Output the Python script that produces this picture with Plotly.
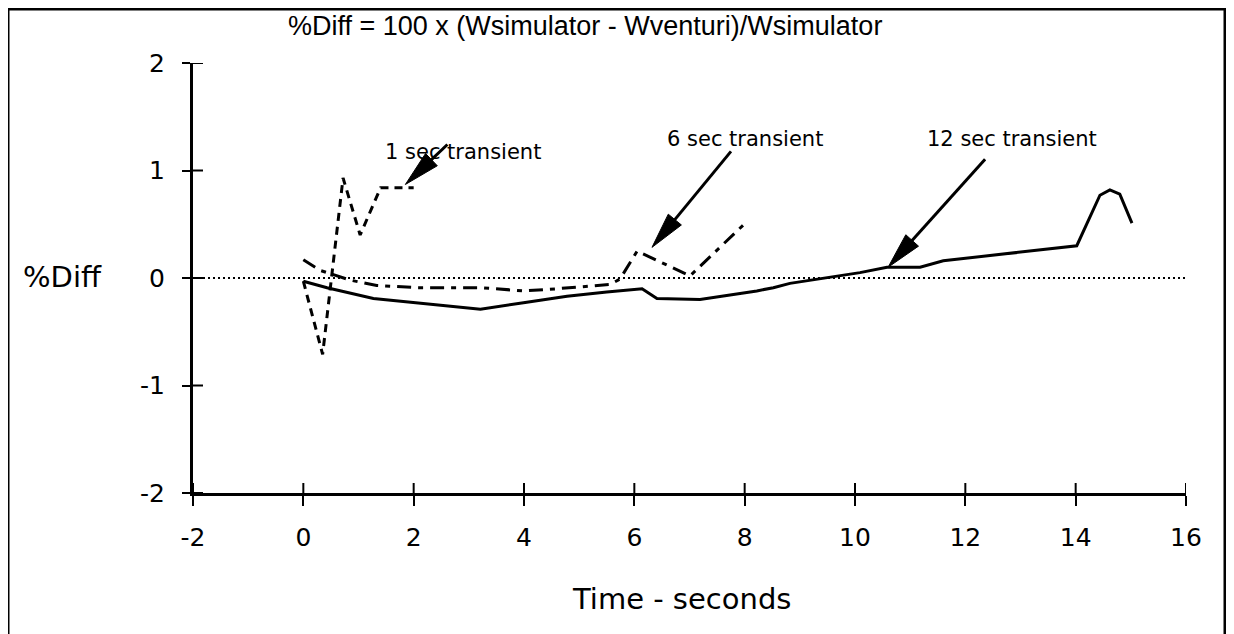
import numpy as np
import plotly.graph_objects as go

# %Diff vs time
t_1s = [0.0, 0.35, 0.72, 1.03, 1.4, 2.0]
d_1s = [-0.03, -0.71, 0.93, 0.40, 0.84, 0.84]

t_6s = [0.0, 0.31, 0.85, 1.33, 2.06, 3.2, 4.0, 4.6, 5.56, 5.74, 6.05, 7.01, 8.01]
d_6s = [0.17, 0.07, -0.02, -0.07, -0.09, -0.09, -0.12, -0.10, -0.06, -0.01, 0.25, 0.02, 0.51]

t_12s = [0.0, 0.43, 1.27, 2.42, 3.21, 3.99, 4.78, 5.5, 6.14, 6.41, 7.19, 8.22, 8.52,
         8.82, 9.61, 10.09, 10.58, 11.18, 11.6, 14.02, 14.44, 14.62, 14.8, 15.02]
d_12s = [-0.03, -0.09, -0.19, -0.25, -0.29, -0.23, -0.17, -0.13, -0.10, -0.19, -0.20, -0.12, -0.09,
         -0.05, 0.01, 0.05, 0.10, 0.10, 0.16, 0.30, 0.77, 0.82, 0.78, 0.51]

x_ticks = [-2, 0, 2, 4, 6, 8, 10, 12, 14, 16]
x_tick_text = ["-2", "0", "2", "4", "6", "8", "10", "12", "14", "16"]
y_ticks = [-2, -1, 0, 1, 2]
y_tick_text = ["-2", "-1", "0", "1", "2"]

labels = ["1 sec transient", "6 sec transient", "12 sec transient"]

W, H = 1234, 634
OFF = 8  # page body margin
L, R, T, B = 193 - OFF, 56, 63 - OFF, 149
PW, PH = W - L - R, H - T - B

FONT = "DejaVu Sans"


def px_x(px):
    return (px - OFF - L) / PW


def px_y(py):
    return (H - B - (py - OFF)) / PH


fig = go.Figure()

# zero reference line
fig.add_trace(go.Scatter(x=[-2, 16], y=[0, 0], mode="lines",
                         line=dict(color="black", width=2, dash="2px,3px"),
                         showlegend=False, hoverinfo="skip"))

fig.add_trace(go.Scatter(x=t_1s, y=d_1s, mode="lines", name=labels[0],
                         line=dict(color="black", width=3, dash="8px,6px")))
fig.add_trace(go.Scatter(x=t_6s, y=d_6s, mode="lines", name=labels[1],
                         line=dict(color="black", width=3, dash="14px,7px,5px,7px")))
fig.add_trace(go.Scatter(x=t_12s, y=d_12s, mode="lines", name=labels[2],
                         line=dict(color="black", width=3)))

# arrows: tip in data coords, tail offset in pixels (right, up)
arrows = [
    (1.85, 0.87, 42, 40),
    (6.32, 0.285, 79, 96),
    (10.6, 0.10, 97, 108),
]
head_len, head_hw = 36, 8.5
shapes = []
for ax, ay, dx, dy in arrows:
    u = np.array([dx, dy], dtype=float)
    u /= np.hypot(dx, dy)
    n = np.array([-u[1], u[0]])
    base = head_len * u
    p1 = base + head_hw * n
    p2 = base - head_hw * n
    shapes.append(dict(type="path", xref="x", yref="y", xsizemode="pixel", ysizemode="pixel",
                       xanchor=ax, yanchor=ay,
                       path=f"M0,0 L{p1[0]:.1f},{p1[1]:.1f} L{p2[0]:.1f},{p2[1]:.1f} Z",
                       fillcolor="black", line=dict(color="black", width=1)))
    s = base * 0.8
    shapes.append(dict(type="line", xref="x", yref="y", xsizemode="pixel", ysizemode="pixel",
                       xanchor=ax, yanchor=ay, x0=s[0], y0=s[1], x1=dx, y1=dy,
                       line=dict(color="black", width=3)))

# inner half of the tick marks (they cross the axis line)
for v in x_ticks:
    shapes.append(dict(type="line", xref="x", yref="paper", ysizemode="pixel", yanchor=0,
                       x0=v, x1=v, y0=0, y1=10, line=dict(color="black", width=2)))
for v in y_ticks:
    shapes.append(dict(type="line", xref="paper", yref="y", xsizemode="pixel", xanchor=0,
                       x0=0, x1=10, y0=v, y1=v, line=dict(color="black", width=2)))

# outer frame
shapes.append(dict(type="rect", xref="paper", yref="paper",
                   x0=px_x(8), x1=px_x(1225), y0=px_y(660), y1=px_y(9),
                   line=dict(color="black", width=3)))

annotations = [
    dict(text="%Diff = 100 x (Wsimulator - Wventuri)/Wsimulator", x=px_x(585), y=px_y(26),
         font=dict(family="Liberation Sans", size=27)),
    dict(text="Time - seconds", x=px_x(681), y=px_y(599), font=dict(family=FONT, size=29)),
    dict(text="%Diff", x=px_x(62), y=px_y(277), font=dict(family=FONT, size=29)),
    dict(text=labels[0], x=px_x(463), y=px_y(152), font=dict(family=FONT, size=21)),
    dict(text=labels[1], x=px_x(745), y=px_y(139), font=dict(family=FONT, size=21)),
    dict(text=labels[2], x=px_x(1012), y=px_y(139), font=dict(family=FONT, size=21)),
]
for a in annotations:
    a.update(xref="paper", yref="paper", showarrow=False, xanchor="center", yanchor="middle")
    a["font"]["color"] = "black"

axis_common = dict(showgrid=False, zeroline=False, color="black",
                   showline=True, linewidth=3, linecolor="black",
                   tickwidth=2, tickcolor="black")

fig.update_layout(
    width=W, height=H,
    margin=dict(l=L, r=R, t=T, b=B),
    paper_bgcolor="white", plot_bgcolor="white",
    showlegend=False,
    font=dict(family=FONT, color="black"),
    xaxis=dict(range=[-2, 16], tickmode="array", tickvals=x_ticks, ticktext=x_tick_text,
               ticks="outside", ticklen=10,
               tickfont=dict(family=FONT, size=25), ticklabelstandoff=10, **axis_common),
    yaxis=dict(range=[-2, 2], tickmode="array", tickvals=y_ticks, ticktext=y_tick_text,
               ticks="outside", ticklen=8,
               tickfont=dict(family=FONT, size=25), ticklabelstandoff=12, **axis_common),
    shapes=shapes,
    annotations=annotations,
)

fig.write_html("out.html")
